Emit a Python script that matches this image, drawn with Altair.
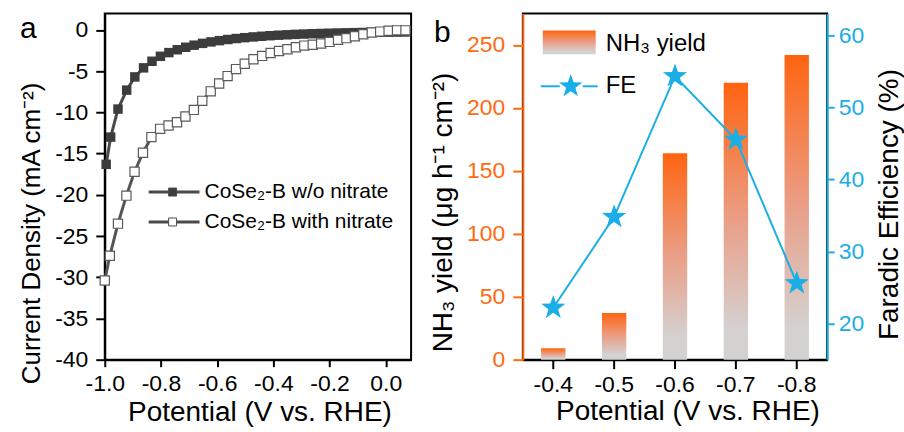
import altair as alt
import pandas as pd

# ---------------- panel a data (LSV curves) ----------------
potential_wo = [-0.995, -0.979, -0.953, -0.922, -0.893, -0.862, -0.832, -0.802, -0.772, -0.742,
                -0.712, -0.682, -0.652, -0.622, -0.592, -0.562, -0.532, -0.502, -0.472, -0.442,
                -0.412, -0.382, -0.352, -0.322, -0.292, -0.262, -0.232, -0.202, -0.172, -0.142,
                -0.112, -0.082, -0.052, -0.022, 0.008, 0.038, 0.068]
current_wo = [-16.3, -13.0, -9.6, -7.3, -5.7, -4.6, -3.8, -3.2, -2.75, -2.4,
              -2.1, -1.85, -1.63, -1.45, -1.3, -1.16, -1.04, -0.94, -0.85, -0.77,
              -0.70, -0.64, -0.59, -0.54, -0.50, -0.46, -0.43, -0.40, -0.37, -0.35,
              -0.33, -0.31, -0.29, -0.28, -0.27, -0.26, -0.25]

potential_with = [-1.0, -0.982, -0.953, -0.923, -0.894, -0.864, -0.834, -0.803, -0.773, -0.743,
                  -0.713, -0.683, -0.653, -0.623, -0.593, -0.563, -0.533, -0.502, -0.471, -0.440,
                  -0.410, -0.380, -0.350, -0.320, -0.290, -0.260, -0.230, -0.200, -0.170, -0.140,
                  -0.110, -0.080, -0.050, -0.020, 0.010, 0.040, 0.070]
current_with = [-30.4, -27.4, -23.5, -20.1, -17.2, -14.9, -13.0, -12.0, -11.6, -11.2,
                -10.5, -9.7, -8.6, -7.45, -6.5, -5.6, -4.75, -4.1, -3.55, -3.15,
                -2.8, -2.55, -2.35, -2.1, -1.9, -1.8, -1.65, -1.45, -1.2, -1.0,
                -0.77, -0.52, -0.32, -0.2, -0.1, -0.05, -0.05]

# ---------------- panel b data ----------------
potential_cats = ["-0.4", "-0.5", "-0.6", "-0.7", "-0.8"]
nh3_yield = [9, 37, 164, 220, 242]
faradaic_eff = [22.2, 34.8, 54.3, 45.5, 25.6]

label_wo = "CoSe₂-B w/o nitrate"
label_with = "CoSe₂-B with nitrate"

# ---------------- styles ----------------
FONT = "Liberation Sans"
ORANGE = "#FF6A10"
BLUE = "#1AAEE6"
DARK = "#4a4a4a"
STAR = ("M0,-1L0.235,-0.324L0.951,-0.309L0.381,0.124L0.588,0.809L0,0.4"
        "L-0.588,0.809L-0.381,0.124L-0.951,-0.309L-0.235,-0.324Z")
MINUS_FIX = "replace(datum.label, '\u2212', '-')"

GRAD = alt.Gradient(
    gradient="linear",
    stops=[alt.GradientStop(color="#FF6410", offset=0),
           alt.GradientStop(color="#EA9F88", offset=0.5),
           alt.GradientStop(color="#D4D2D1", offset=0.9)],
    x1=0, x2=0, y1=0, y2=1)

one = pd.DataFrame({"k": [0]})
df_wo = pd.DataFrame({"V": potential_wo, "J": current_wo})
df_with = pd.DataFrame({"V": potential_with, "J": current_with})
df_b = pd.DataFrame({"P": potential_cats, "Y": nh3_yield, "FE": faradaic_eff})

# ---------------- panel a ----------------
xa = alt.X("V:Q", scale=alt.Scale(domain=[-1.0, 0.09], nice=False, zero=False),
           axis=alt.Axis(values=[-1.0, -0.8, -0.6, -0.4, -0.2, 0.0], format=".1f",
                         labelExpr=MINUS_FIX, labelOverlap=False, labelFlush=False,
                         tickSize=7, labelPadding=6,
                         title="Potential (V vs. RHE)", titleFontSize=28,
                         titleX=155, titleY=61, titleAlign="center",
                         titleBaseline="alphabetic"))
ya = alt.Y("J:Q", scale=alt.Scale(domain=[-40, 2], nice=False, zero=False),
           axis=alt.Axis(values=[-40, -35, -30, -25, -20, -15, -10, -5, 0],
                         labelExpr=MINUS_FIX, labelOverlap=False, labelFlush=False,
                         tickSize=9, labelPadding=8,
                         title="Current Density (mA cm⁻²)", titleFontSize=26,
                         titleAngle=270, titleX=-65, titleY=220, titleAlign="center",
                         titleBaseline="alphabetic"))

line_wo = alt.Chart(df_wo).mark_line(color=DARK, strokeWidth=3).encode(x=xa, y=ya)
pts_wo = alt.Chart(df_wo).mark_point(shape="square", filled=True, color="#3c3c3c",
                                     size=90, opacity=1).encode(x=xa, y=ya)
line_with = alt.Chart(df_with).mark_line(color="#555555", strokeWidth=3).encode(x=xa, y=ya)
pts_with = alt.Chart(df_with).mark_point(shape="square", filled=True, fill="white",
                                         stroke="#5a5a5a", strokeWidth=1.2, size=85,
                                         opacity=1).encode(x=xa, y=ya)

leg_a = []
for yy, label, filled_fill in [(179, label_wo, "#3c3c3c"), (209, label_with, "white")]:
    leg_a.append(alt.Chart(one).mark_rule(color=DARK, strokeWidth=3).encode(
        x=alt.value(44), x2=alt.value(95), y=alt.value(yy)))
    leg_a.append(alt.Chart(one).mark_point(shape="square", filled=True, fill=filled_fill,
                                           stroke="#4a4a4a", strokeWidth=1, size=64,
                                           opacity=1).encode(x=alt.value(68), y=alt.value(yy)))
    leg_a.append(alt.Chart(one).mark_text(text=label, font=FONT, fontSize=21, align="left",
                                          baseline="alphabetic", color="black").encode(
        x=alt.value(100), y=alt.value(yy + 6)))

letter_a = alt.Chart(one).mark_text(text="a", font=FONT, fontSize=30, align="left",
                                    baseline="alphabetic", color="black").encode(
    x=alt.value(-85), y=alt.value(25))

panel_a = alt.layer(line_wo, pts_wo, line_with, pts_with, *leg_a, letter_a).properties(
    width=307, height=347)

# ---------------- panel b ----------------
xb = alt.X("P:O", sort=potential_cats,
           scale=alt.Scale(paddingInner=0.6, paddingOuter=0.3),
           axis=alt.Axis(labelAngle=0, labelOverlap=False, tickSize=9, labelPadding=5,
                         title="Potential (V vs. RHE)", titleFontSize=28,
                         titleX=165, titleY=60, titleAlign="center",
                         titleBaseline="alphabetic"))
yb = alt.Y("Y:Q", scale=alt.Scale(domain=[0, 275], nice=False),
           axis=alt.Axis(orient="left", values=[0, 50, 100, 150, 200, 250],
                         domainColor=ORANGE, tickColor=ORANGE, labelColor=ORANGE,
                         labelFlush=False, tickSize=10, labelPadding=8,
                         title="NH₃ yield (μg h⁻¹ cm⁻²)", titleFontSize=28,
                         titleAngle=270, titleX=-72, titleY=199, titleAlign="center",
                         titleBaseline="alphabetic"))
yfe = alt.Y("FE:Q", scale=alt.Scale(domain=[15, 63], nice=False, zero=False),
            axis=alt.Axis(orient="right", values=[20, 30, 40, 50, 60],
                          domainColor=BLUE, tickColor=BLUE, labelColor=BLUE,
                          labelFlush=False, tickSize=7, labelPadding=4,
                          title="Faradic Efficiency (%)", titleFontSize=28,
                          titleAngle=270, titleX=70, titleY=191, titleAlign="center",
                          titleBaseline="alphabetic"))

bars = alt.Chart(df_b).mark_bar(color=GRAD).encode(x=xb, y=yb)
fe_line = alt.Chart(df_b).mark_line(color=BLUE, strokeWidth=2).encode(x=xb, y=yfe)
fe_pts = alt.Chart(df_b).mark_point(shape=STAR, filled=True, color=BLUE, size=650,
                                    opacity=1).encode(x=xb, y=yfe)
fe_layer = alt.layer(fe_line, fe_pts)

leg_rect = alt.Chart(one).mark_rect(color=GRAD).encode(
    x=alt.value(20), x2=alt.value(73), y=alt.value(17), y2=alt.value(41))
leg_t1 = alt.Chart(one).mark_text(text="NH₃ yield", font=FONT, fontSize=24, align="left",
                                  baseline="alphabetic", color="black").encode(
    x=alt.value(83), y=alt.value(38))
leg_r1 = alt.Chart(one).mark_rule(color=BLUE, strokeWidth=2).encode(
    x=alt.value(18), x2=alt.value(37), y=alt.value(73))
leg_r2 = alt.Chart(one).mark_rule(color=BLUE, strokeWidth=2).encode(
    x=alt.value(60), x2=alt.value(75), y=alt.value(73))
leg_star = alt.Chart(one).mark_point(shape=STAR, filled=True, color=BLUE, size=600,
                                     opacity=1).encode(x=alt.value(48), y=alt.value(73))
leg_t2 = alt.Chart(one).mark_text(text="FE", font=FONT, fontSize=24, align="left",
                                  baseline="alphabetic", color="black").encode(
    x=alt.value(83), y=alt.value(80))
letter_b = alt.Chart(one).mark_text(text="b", font=FONT, fontSize=30, align="left",
                                    baseline="alphabetic", color="black").encode(
    x=alt.value(-89), y=alt.value(29))

panel_b = alt.layer(bars, fe_layer, leg_rect, leg_t1, leg_r1, leg_r2, leg_star, leg_t2,
                    letter_b).resolve_scale(y="independent").properties(width=305, height=347)

chart = alt.hconcat(panel_a, panel_b, spacing=112, bounds="flush").properties(
    padding={"left": 17, "top": 12, "right": 0, "bottom": 0},
    background="white",
).configure_axis(
    labelFont=FONT, titleFont=FONT, labelFontSize=23, titleFontWeight="normal",
    labelColor="black", titleColor="black", domainColor="black", tickColor="black",
    domainWidth=2, tickWidth=2, grid=False,
).configure_view(stroke="black", strokeWidth=2)

chart.save("out.html", embed_options={"renderer": "svg", "actions": False})
